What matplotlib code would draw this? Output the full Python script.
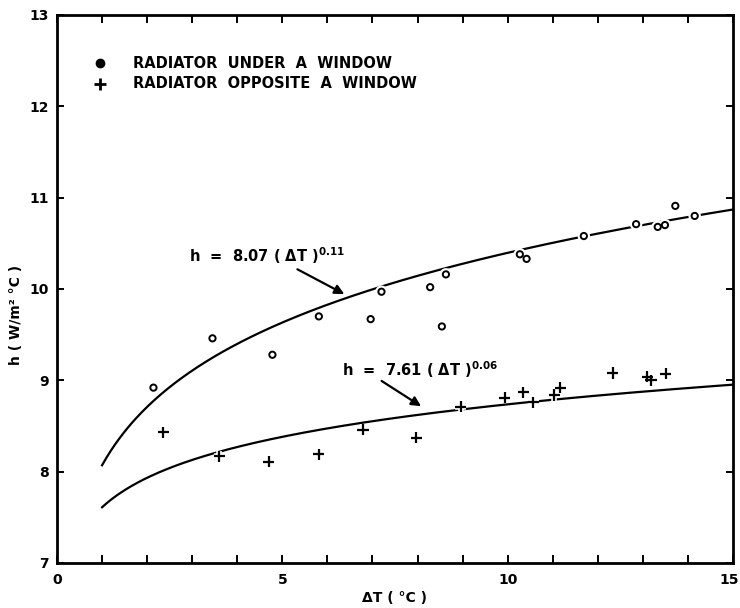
import numpy as np
import matplotlib.pyplot as plt
import matplotlib.patheffects as pe
import matplotlib.transforms as mtransforms

plt.rcParams['font.family'] = 'DejaVu Sans'
plt.rcParams['font.weight'] = 'bold'
plt.rcParams['axes.labelweight'] = 'bold'
plt.rcParams['mathtext.default'] = 'bf'

#Measured points, radiator under a window
dT_under = [2.14, 3.45, 4.78, 5.81, 6.96, 7.20, 8.28, 8.63, 8.54,
            10.27, 10.42, 11.69, 12.85, 13.33, 13.49, 13.72, 14.15]
h_under = [8.92, 9.46, 9.28, 9.70, 9.67, 9.97, 10.02, 10.16, 9.59,
           10.38, 10.33, 10.58, 10.71, 10.68, 10.70, 10.91, 10.80]

#Measured points, radiator opposite a window
dT_opp = [2.36, 3.60, 4.70, 5.81, 6.79, 7.97, 8.96, 9.93, 10.35, 10.57,
          11.03, 11.17, 12.33, 13.10, 13.18, 13.51]
h_opp = [8.43, 8.17, 8.11, 8.19, 8.46, 8.37, 8.71, 8.81, 8.87, 8.76,
         8.84, 8.92, 9.08, 9.04, 9.00, 9.07]

#Fitted power laws h = C*dT^n
C_under, n_under = 8.07, 0.11
C_opp, n_opp = 7.61, 0.06

dT_fit = np.linspace(1, 15, 300)
h_fit_under = C_under*dT_fit**n_under
h_fit_opp = C_opp*dT_fit**n_opp

x_ticks = [0, 5, 10, 15]
y_ticks = [7, 8, 9, 10, 11, 12, 13]

fig = plt.figure(figsize=(7.4, 6.08), dpi=100)
ax = fig.add_axes([57/740, 45/608, 676/740, 548/608])

ax.plot(dT_fit, h_fit_under, 'k', linewidth=1.6)
ax.plot(dT_fit, h_fit_opp, 'k', linewidth=1.6)

#white halo breaks the fitted line around each marker
ax.plot(dT_under, h_under, 'o', ms=4.5, mfc='white', mec='k', mew=1.4,
        path_effects=[pe.Stroke(linewidth=4.5, foreground='white'), pe.Normal()])
ax.plot(dT_opp, h_opp, '+', ms=8, mec='k', mew=1.6,
        path_effects=[pe.Stroke(linewidth=4, foreground='white'), pe.Normal()])

#Legend drawn by hand
ax.plot([0.95], [12.47], 'o', ms=6, color='k')
ax.plot([0.95], [12.25], '+', ms=8, mec='k', mew=2)
ax.text(1.69, 12.47, 'RADIATOR  UNDER  A  WINDOW', va='center', fontsize=10.5)
ax.text(1.69, 12.25, 'RADIATOR  OPPOSITE  A  WINDOW', va='center', fontsize=10.5)

#Fit labels with arrows
ax.text(2.93, 10.30, 'h  =  8.07 ( ΔT )$^{0.11}$', va='baseline', fontsize=10.5)
ax.annotate('', xy=(6.43, 9.93), xytext=(5.28, 10.23),
            arrowprops=dict(arrowstyle='-|>', color='k', lw=1.6, mutation_scale=14))
ax.text(6.32, 9.05, 'h  =  7.61 ( ΔT )$^{0.06}$', va='baseline', fontsize=10.5)
ax.annotate('', xy=(8.13, 8.70), xytext=(7.15, 9.01),
            arrowprops=dict(arrowstyle='-|>', color='k', lw=1.6, mutation_scale=14))

ax.set_xlim(0, 15)
ax.set_ylim(7, 13)
ax.set_xticks(x_ticks)
ax.set_xticks(np.arange(0, 16, 1), minor=True)
ax.set_yticks(y_ticks)
ax.tick_params(which='both', direction='in', top=True, right=True,
               width=1.4, labelsize=10, pad=7)
ax.tick_params(which='both', length=6)
ax.tick_params(axis='y', length=5, pad=6)
for s in ax.spines.values():
    s.set_linewidth(2)

#pull the last x label inside the figure edge
last = ax.get_xticklabels()[-1]
last.set_transform(last.get_transform() +
                   mtransforms.ScaledTranslation(-3/72, 0, fig.dpi_scale_trans))

ax.set_xlabel('ΔT ( °C )', fontsize=10)
ax.xaxis.set_label_coords(0.5, -0.052)
ax.set_ylabel('h ( W/m² °C )', fontsize=10)
ax.yaxis.set_label_coords(-0.05, 0.4526)

plt.savefig('out.png', dpi=100)
